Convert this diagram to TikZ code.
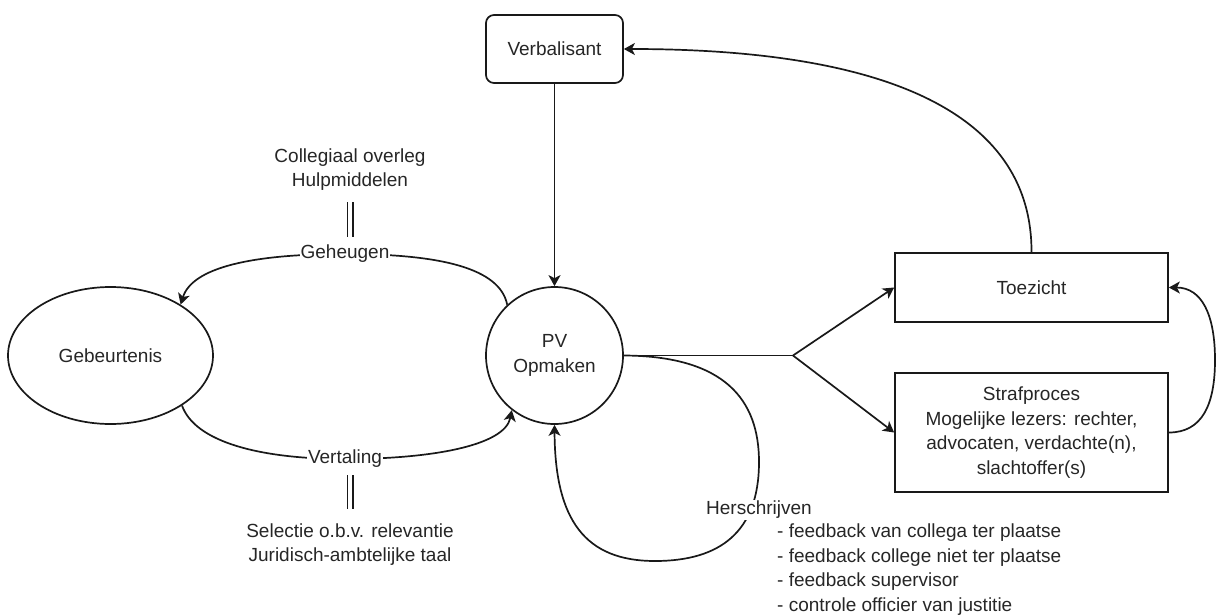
\documentclass[tikz,border=0pt]{standalone}
\usepackage{fontspec}
\setmainfont{Liberation Sans}
\usetikzlibrary{shapes.geometric,arrows.meta}
\begin{document}
\begin{tikzpicture}[x=1pt,y=-1pt,
  every node/.style={font=\fontsize{19}{24.5}\selectfont, text=black!85},
  shp/.style={draw=black!90, line width=1.7pt, inner sep=2pt, align=center},
  conn/.style={draw=black!90, line width=1.7pt},
  arr/.style={conn, -{Stealth[length=11pt,width=12pt,inset=3pt]}},
  lbl/.style={fill=white, inner sep=1pt},
  txt/.style={align=center, inner sep=0pt},
  dbl/.style={draw=black!90, line width=1.5pt, double=white, double distance=4pt}]
\useasboundingbox (0,0) rectangle (1216,616);

% nodes
\node[shp, rounded corners=8pt, minimum width=137pt, minimum height=68pt] (verb) at (554.5,49) {Verbalisant};
\node[shp, circle, minimum size=137pt] (pv) at (554.5,355.5) {PV\\Opmaken};
\node[shp, ellipse, minimum width=205pt, minimum height=137pt] (geb) at (110.5,355.5) {Gebeurtenis};
\node[shp, minimum width=273pt, minimum height=69pt] (toez) at (1031.5,287.5) {Toezicht};
\node[shp, minimum width=273pt, minimum height=119pt] (straf) at (1031.5,432.5) {Strafproces\\Mogelijke lezers: rechter,\\advocaten, verdachte(n),\\slachtoffer(s)};

% text blocks
\node[txt] (coll) at (350,169.5) {Collegiaal overleg\\Hulpmiddelen};
\node[txt] (sel) at (350,544.5) {Selectie o.b.v. relevantie\\Juridisch-ambtelijke taal};
\node[txt, align=left, anchor=west] (list) at (777,569.5) {- feedback van collega ter plaatse\\- feedback college niet ter plaatse\\- feedback supervisor\\- controle officier van justitie};

% connectors
\draw[arr] (verb.south) -- (pv.north);

\draw[arr] (pv.133) .. controls (500,268) and (440,254) .. (345,254)
  node[lbl] (geh) {Geheugen}
  .. controls (250,254) and (192,268) .. (geb.36);

\draw[arr] (geb.-35) .. controls (195,442) and (260,459) .. (345,459)
  node[lbl] (vert) {Vertaling}
  .. controls (430,459) and (505,446) .. (pv.232);

\coordinate (br) at (793,355.5);
\draw[conn] (pv.east) -- (br);
\draw[arr] (br) -- (toez.west);
\draw[arr] (br) -- (straf.west);

\draw[arr] (pv.east) .. controls (725,356) and (759,400) .. (759,462)
  .. controls (759,532) and (720,561) .. (655,561)
  .. controls (585,561) and (555,520) .. (pv.south);
\node[lbl] (hers) at (759,510) {Herschrijven};

\draw[arr] (toez.north) .. controls (1032,120) and (900,49) .. (verb.east);

\draw[arr] (straf.east) .. controls (1202,432.5) and (1215,405) .. (1215,360)
  .. controls (1215,315) and (1202,287.5) .. (toez.east);

% double bars
\coordinate (b1t) at (350,202);
\coordinate (b1b) at (350,237);
\coordinate (b2t) at (350,475);
\coordinate (b2b) at (350,509);
\draw[dbl] (b1t) -- (b1b);
\draw[dbl] (b2t) -- (b2b);
\end{tikzpicture}
\end{document}
